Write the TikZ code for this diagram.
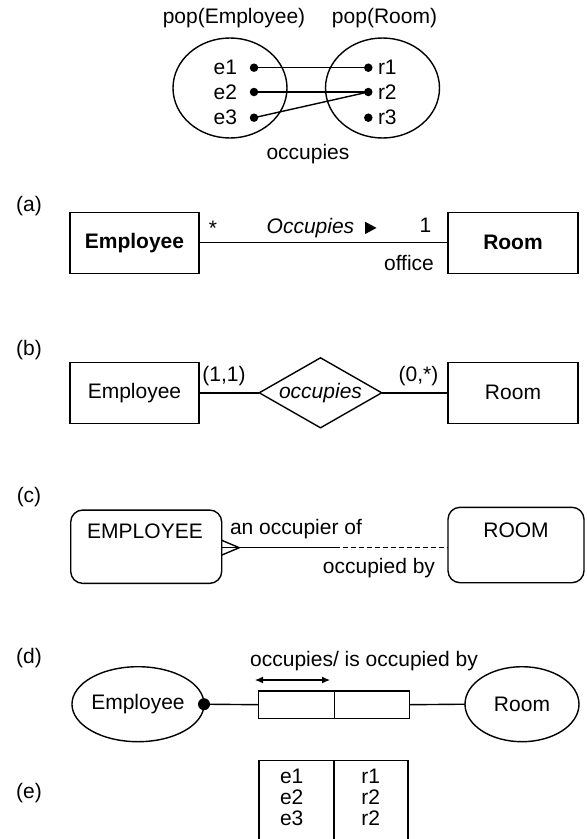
\documentclass[tikz,border=0pt]{standalone}
\usepackage{fontspec}
\setmainfont{Liberation Sans}
\usetikzlibrary{shapes.geometric,arrows.meta}
\begin{document}
\begin{tikzpicture}[x=1pt,y=-1pt,
  every node/.style={inner sep=0pt, outer sep=0pt, font=\fontsize{21}{25}\selectfont},
  ln/.style={line width=1.4pt},
  box/.style={draw, ln, rectangle, minimum width=129pt, minimum height=61pt},
  rbox/.style={draw, ln, rectangle, rounded corners=12pt},
  oval/.style={draw, ln, ellipse},
  dot/.style={circle, fill, minimum size=8.5pt},
  tag/.style={anchor=center}]
\useasboundingbox (0,0) rectangle (587,839);

% ---------- populations ----------
\node (popE) at (234,18) {pop(Employee)};
\node (popR) at (384.5,18) {pop(Room)};
\node[oval, minimum width=114pt, minimum height=100pt] (setE) at (230,88) {};
\node[oval, minimum width=114pt, minimum height=100pt] (setR) at (382.5,88) {};
\node[dot] (e1) at (254,67.7) {};
\node[dot] (e2) at (254,92) {};
\node[dot] (e3) at (254,117.7) {};
\node[dot] (r1) at (368.3,67.7) {};
\node[dot] (r2) at (368.3,92) {};
\node[dot] (r3) at (368.3,117.7) {};
\node[anchor=east] (te1) at (237,67.7) {e1};
\node[anchor=east] (te2) at (237,92) {e2};
\node[anchor=east] (te3) at (237,117.7) {e3};
\node[anchor=west] (tr1) at (378,67.7) {r1};
\node[anchor=west] (tr2) at (378,92) {r2};
\node[anchor=west] (tr3) at (378,117.7) {r3};
\draw[ln] (e1.center) -- (r1.center);
\draw[ln] (e2.center) -- (r2.center);
\draw[ln] (e3.center) -- (r2.center);
\node (occ) at (308,154.5) {occupies};

% ---------- (a) UML ----------
\node[tag] (la) at (29,206) {(a)};
\node[box] (empA) at (134.5,242.7) {\bfseries Employee};
\node[box, minimum width=130pt] (roomA) at (513,242.7) {\bfseries Room};
\draw[ln] (empA) -- (roomA);
\node (multA) at (213,228) {*};
\node[anchor=west] (relA) at (266.7,228.3) {\itshape Occupies};
\fill (365,221.7) -- (376.5,227.9) -- (365,234.1) -- cycle;
\node (oneA) at (425.5,225.5) {1};
\node (roleA) at (409,263) {office};

% ---------- (b) ER ----------
\node[tag] (lb) at (29,350) {(b)};
\node[box] (empB) at (134.5,392.8) {Employee};
\node[box, minimum width=130pt] (roomB) at (513,392.8) {Room};
\node[diamond, draw, ln, minimum width=122.4pt, minimum height=70pt] (relB) at (320.5,392.8) {};
\node (relBt) at (relB) {\itshape occupies};
\draw[ln] (empB) -- (relB);
\draw[ln] (relB) -- (roomB);
\node (cardE) at (224,376) {(1,1)};
\node (cardR) at (418.5,376) {(0,*)};

% ---------- (c) Barker ----------
\node[tag] (lc) at (29,497) {(c)};
\node[rbox, minimum width=151pt, minimum height=73.3pt] (empC) at (146.2,546.7) {};
\node (empCt) at (145,531.7) {EMPLOYEE};
\node[rbox, minimum width=136pt, minimum height=75.4pt] (roomC) at (516,545) {};
\node (roomCt) at (516,530.5) {ROOM};
\coordinate (tipC) at (239.3,547.7);
\coordinate (midC) at (335,547.7);
\coordinate (cfU) at (221.7,540.3);
\coordinate (cfD) at (221.7,555.1);
\draw[ln] (empC.east |- tipC) -- (midC);
\draw[ln, dash pattern=on 5pt off 3pt] (midC) -- (roomC.west |- tipC);
\draw[ln] (cfU) -- (tipC) -- (cfD);
\node[anchor=west] (nameE) at (230,529) {an occupier of};
\node[anchor=east] (nameR) at (435,568) {occupied by};

% ---------- (d) ORM ----------
\node[tag] (ld) at (29,658) {(d)};
\node[oval, minimum width=130pt, minimum height=75pt] (empD) at (138,704.2) {Employee};
\node[oval, minimum width=114pt, minimum height=75pt] (roomD) at (522,704.2) {Room};
\node[circle, fill, minimum size=12pt] (dotD) at (empD.east) {};
\node[draw, ln, minimum width=75.8pt, minimum height=27.3pt] (roleE) at (296.4,704.7) {};
\node[draw, ln, minimum width=75.2pt, minimum height=27.3pt] (roleR) at (371.9,704.7) {};
\draw[ln] (dotD.center) -- (roleE.west);
\draw[ln] (roleR.east) -- (roomD.west);
\coordinate (arL) at (255,680);
\coordinate (arR) at (330,680);
\draw[line width=1.1pt, {Latex[length=8pt,width=7pt]}-{Latex[length=8pt,width=7pt]}] (arL) -- (arR);
\node (readD) at (364,661) {occupies/ is occupied by};

% ---------- (e) table ----------
\node[tag] (le) at (29,793) {(e)};
\draw[ln] (259,841) -- (259,760.7) -- (408,760.7) -- (408,841);
\draw[ln] (334,760.7) -- (334,841);
\node (te1b) at (291.7,776.7) {e1};
\node (te2b) at (291.7,797.3) {e2};
\node (te3b) at (291.7,818.3) {e3};
\node (tr1b) at (370.8,776.7) {r1};
\node (tr2b) at (370.8,797.3) {r2};
\node (tr3b) at (370.8,818.3) {r2};
\end{tikzpicture}
\end{document}
